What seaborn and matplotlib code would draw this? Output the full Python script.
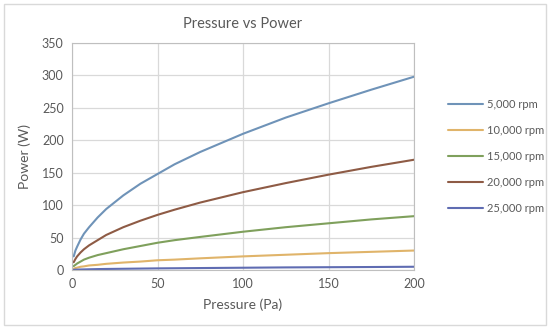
import seaborn as sns
import pandas as pd
import matplotlib.pyplot as plt
import numpy as np
from matplotlib.patches import Rectangle

sns.set_theme(style='white')
plt.rcParams['font.family'] = ['Lato', 'DejaVu Sans']

pressure = [1, 2, 3, 5, 7, 10, 15, 20, 30, 40, 50, 60, 75, 100, 125, 150, 175, 200]
rpm_5000 = [21, 30, 36, 47, 56, 66, 81, 94, 115, 133, 148, 163, 182, 210, 235, 257, 278, 298]
rpm_10000 = [2, 3, 3.6, 5, 5.6, 7, 8, 9.5, 11.5, 13, 15, 16, 18, 21, 23.5, 26, 28, 30]
rpm_15000 = [6, 8, 10, 13, 16, 19, 23, 26, 32, 37, 42, 46, 51, 59, 66, 72, 78, 83]
rpm_20000 = [12, 17, 21, 27, 32, 38, 46, 54, 66, 76, 85, 93, 104, 120, 134, 147, 159, 170]
rpm_25000 = [0.3, 0.5, 0.6, 0.8, 0.9, 1.1, 1.4, 1.6, 1.9, 2.2, 2.5, 2.7, 3, 3.5, 4, 4.3, 4.6, 5]

series = ['5,000 rpm', '10,000 rpm', '15,000 rpm', '20,000 rpm', '25,000 rpm']
colors = ['#6F93B8', '#E0B46A', '#7FA05C', '#8E5B45', '#5F6CB2']

raw = pd.DataFrame({'Pressure (Pa)': pressure, series[0]: rpm_5000, series[1]: rpm_10000,
                    series[2]: rpm_15000, series[3]: rpm_20000, series[4]: rpm_25000})
data = pd.melt(raw, id_vars='Pressure (Pa)', var_name='Series', value_name='Power (W)')

txt = '#595959'
fig = plt.figure(figsize=(5.5, 3.29), dpi=100)
ax = fig.add_axes([72 / 550, 1 - 270 / 329, 342 / 550, 227 / 329])

sns.lineplot(data=data, x='Pressure (Pa)', y='Power (W)', hue='Series', palette=colors,
             linewidth=1.5, ax=ax)

ax.set_xlim(0, 200)
ax.set_ylim(0, 350)
ax.set_xticks(np.arange(0, 201, 50))
ax.set_yticks(np.arange(0, 351, 50))
ax.grid(True, color='#D9D9D9', linewidth=0.9)
for s in ax.spines.values():
    s.set_color('#BFBFBF')
    s.set_linewidth(0.8)
ax.tick_params(axis='both', length=0, labelsize=9, colors=txt, pad=6)
ax.set_xlabel('Pressure (Pa)', fontsize=10, color=txt, labelpad=6)
ax.set_ylabel('Power (W)', fontsize=10, color=txt, labelpad=8)
ax.set_title('Pressure vs Power', fontsize=10.5, color=txt, pad=11)

ax.legend(loc='center left', bbox_to_anchor=(1.07, 0.5), frameon=False, fontsize=8,
          labelspacing=1.35, handlelength=3.2, handletextpad=0.3, labelcolor=txt)

fig.patches.append(Rectangle((4 / 550, 4 / 329), 542 / 550, 321 / 329, transform=fig.transFigure,
                             fill=False, edgecolor='#D9D9D9', linewidth=1))

fig.savefig('out.png', dpi=100, facecolor='white')
